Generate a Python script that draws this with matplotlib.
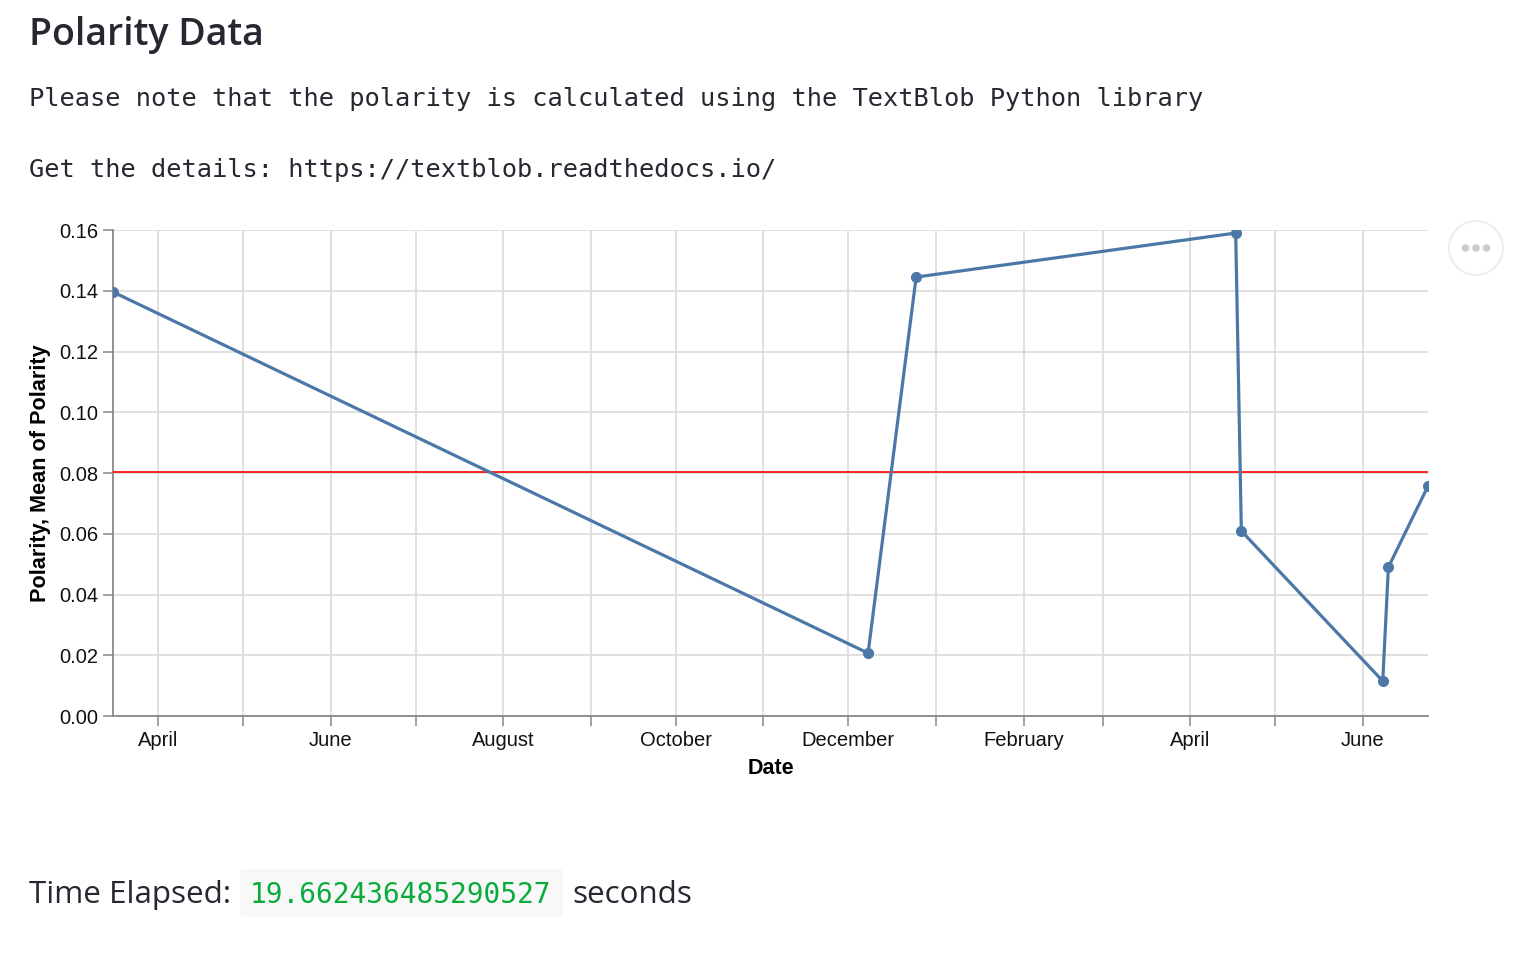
import matplotlib
matplotlib.use("Agg")
import matplotlib.pyplot as plt
import matplotlib.dates as mdates
from matplotlib.patches import FancyBboxPatch, Circle
from matplotlib.ticker import FixedLocator, FormatStrFormatter
import pandas as pd

# data
dates = pd.to_datetime([
    "2020-03-16", "2020-12-08", "2020-12-25", "2021-04-17",
    "2021-04-19", "2021-06-08", "2021-06-10", "2021-06-24",
])
polarity = [0.1396, 0.0207, 0.1445, 0.1590, 0.0609, 0.0115, 0.0490, 0.0757]
mean_polarity = 0.0803
y_ticks = [0.00, 0.02, 0.04, 0.06, 0.08, 0.10, 0.12, 0.14, 0.16]

title = "Polarity Data"
note_1 = "Please note that the polarity is calculated using the TextBlob Python library"
note_2 = "Get the details: https://textblob.readthedocs.io/"
elapsed = "19.662436485290527"

W, H = 1522, 957
DPI = 100
TEXT = "#262730"
LINE = "#4c78a8"
AXIS = "#888888"
GRID = "#dddddd"

fig = plt.figure(figsize=(W / DPI, H / DPI), dpi=DPI)
fig.patch.set_facecolor("white")


def fx(px):
    return px / W


def fy(py):
    return 1 - py / H


# page texts
fig.text(fx(29), fy(45), title, ha="left", va="baseline",
         fontsize=27, fontweight="semibold", family="Open Sans", color=TEXT)
fig.text(fx(29), fy(106), note_1, ha="left", va="baseline",
         fontsize=18.25, family="DejaVu Sans Mono", color=TEXT)
fig.text(fx(29), fy(177), note_2, ha="left", va="baseline",
         fontsize=18.25, family="DejaVu Sans Mono", color=TEXT)

# chart area
left, right, top, bottom = 113, 1428, 230, 716
ax = fig.add_axes([fx(left), fy(bottom), fx(right - left), (bottom - top) / H])

ax.plot(dates, polarity, color=LINE, linewidth=2.3, marker="o",
        markersize=7, zorder=4)
ax.axhline(mean_polarity, color="red", linewidth=1.2, zorder=3)

ax.set_xlim(dates[0], dates[-1])
ax.set_ylim(y_ticks[0], y_ticks[-1])

ax.xaxis.set_major_locator(mdates.MonthLocator(bymonth=[2, 4, 6, 8, 10, 12]))
ax.xaxis.set_major_formatter(mdates.DateFormatter("%B"))
ax.xaxis.set_minor_locator(mdates.MonthLocator(bymonth=[1, 3, 5, 7, 9, 11]))
ax.yaxis.set_major_locator(FixedLocator(y_ticks))
ax.yaxis.set_major_formatter(FormatStrFormatter("%.2f"))

ax.grid(True, which="both", color=GRID, linewidth=1.3, zorder=0)
ax.set_axisbelow(True)
for side in ("top", "right"):
    ax.spines[side].set_visible(False)
for side in ("left", "bottom"):
    ax.spines[side].set_color(AXIS)
    ax.spines[side].set_linewidth(1.3)

ax.tick_params(which="both", length=7.5, width=1.1, color=AXIS,
               labelsize=14.5, labelcolor="#111111", pad=3)
for lab in ax.get_xticklabels() + ax.get_yticklabels():
    lab.set_family("Liberation Sans")

ax.set_xlabel("Date", fontsize=15.5, fontweight="bold", family="Liberation Sans",
              labelpad=6)
ax.set_ylabel("Polarity, Mean of Polarity", fontsize=15.6, fontweight="bold",
              family="Liberation Sans", labelpad=6)

# ellipsis menu button
tr = fig.dpi_scale_trans
fig.add_artist(Circle((1476 / DPI, (H - 248) / DPI), 0.27, transform=tr,
                      facecolor="white", edgecolor="#eeeeee", linewidth=1.5))
for dx in (-10.5, 0, 10.5):
    fig.add_artist(Circle(((1476 + dx) / DPI, (H - 248) / DPI), 0.038,
                          transform=tr, facecolor="#cccccc", edgecolor="none"))

# elapsed time line
fig.text(fx(29), fy(903), "Time Elapsed:", ha="left", va="baseline",
         fontsize=22.6, family="Open Sans", color=TEXT)
fig.add_artist(FancyBboxPatch((2.44, (H - 913) / DPI), 3.15, 0.4,
                              boxstyle="round,pad=0.04", transform=tr,
                              facecolor="#f8f8f8", edgecolor="none"))
fig.text(fx(250), fy(903), elapsed, ha="left", va="baseline",
         fontsize=20.1, family="DejaVu Sans Mono", color="#09ab3b")
fig.text(fx(572), fy(903), "seconds", ha="left", va="baseline",
         fontsize=22.6, family="Open Sans", color=TEXT)

fig.savefig("out.png", dpi=DPI)
